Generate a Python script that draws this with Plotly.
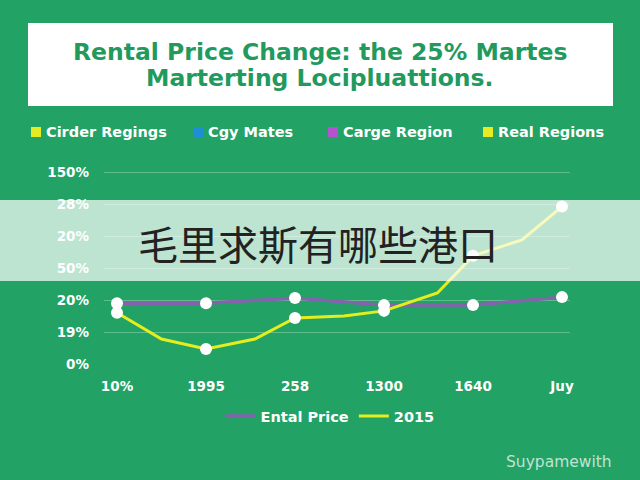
import plotly.graph_objects as go

# ---- data ----
x_tick_vals = [0, 1, 2, 3, 4, 5]
x_tick_text = ["10%", "1995", "258", "1300", "1640", "Juy"]
y_tick_vals = [0, 1, 2, 3, 4, 5, 6]
y_tick_text = ["0%", "19%", "20%", "50%", "20%", "28%", "150%"]

rental_x = [0, 1, 2, 3, 4, 5]
rental_y = [1.9, 1.9, 2.06, 1.84, 1.84, 2.09]

y2015_x = [0, 0.5, 1, 1.55, 2, 2.55, 3, 3.6, 4, 4.55, 5]
y2015_y = [1.6, 0.78, 0.47, 0.78, 1.44, 1.5, 1.66, 2.22, 3.38, 3.88, 4.92]

top_legend_names = ["Cirder Regings", "Cgy Mates", "Carge Region", "Real Regions"]
top_legend_colors = ["#e6ec22", "#1e8fd6", "#b452d2", "#e6ec22"]

title_lines = ["Rental Price Change: the 25% Martes", "Marterting Locipluattions."]
overlay_text = "毛里求斯有哪些港口"
watermark = "Suypamewith"

# ---- layout geometry (pixels) ----
W, H = 640, 480
PL, PR, PT, PB = 104, 570, 162, 364
BG = "#22a264"
PURPLE = "#8462ae"
YELLOW = "#e4ee1e"
FONT = "DejaVu Sans"


def fx(px):
    return (px - PL) / (PR - PL)


def fy(py):
    return (PB - py) / (PB - PT)


fig = go.Figure()

fig.add_trace(go.Scatter(x=rental_x, y=rental_y, mode="lines", name="Ental Price",
                         line=dict(color=PURPLE, width=3.5)))
fig.add_trace(go.Scatter(x=y2015_x, y=y2015_y, mode="lines", name="2015",
                         line=dict(color=YELLOW, width=3)))
# white dots at the labelled positions
fig.add_trace(go.Scatter(x=rental_x, y=rental_y, mode="markers", showlegend=False,
                         marker=dict(color="white", size=12)))
dot_x = [x for x in y2015_x if float(x).is_integer()]
dot_y = [y for x, y in zip(y2015_x, y2015_y) if float(x).is_integer()]
fig.add_trace(go.Scatter(x=dot_x, y=dot_y, mode="markers", showlegend=False,
                         marker=dict(color="white", size=12)))

shapes = []
annotations = []

# title box
shapes.append(dict(type="rect", xref="paper", yref="paper", layer="above",
                   x0=fx(28), x1=fx(613), y0=fy(106), y1=fy(23),
                   fillcolor="white", line=dict(width=0)))
for i, line in enumerate(title_lines):
    annotations.append(dict(xref="paper", yref="paper", x=fx(320), y=fy(52 + 26 * i),
                            text="<b>" + line + "</b>", showarrow=False,
                            font=dict(family=FONT, size=23.5, color="#229a5e"),
                            xanchor="center", yanchor="middle", align="center"))

# top legend row
leg_x = [31, 193, 328, 483]
for name, col, lx in zip(top_legend_names, top_legend_colors, leg_x):
    shapes.append(dict(type="rect", xref="paper", yref="paper",
                       x0=fx(lx), x1=fx(lx + 10), y0=fy(137), y1=fy(127),
                       fillcolor=col, line=dict(width=0)))
    annotations.append(dict(xref="paper", yref="paper", x=fx(lx + 13), y=fy(132),
                            text=name, showarrow=False, xanchor="left", yanchor="middle",
                            font=dict(family=FONT, size=14.5, color="white", weight="bold")))

# translucent overlay band with Chinese text
shapes.append(dict(type="rect", xref="paper", yref="paper", layer="above",
                   x0=fx(0), x1=fx(W), y0=fy(281), y1=fy(200),
                   fillcolor="rgba(255,255,255,0.70)", line=dict(width=0)))
annotations.append(dict(xref="paper", yref="paper", x=fx(318), y=fy(243),
                        text=overlay_text, showarrow=False, xanchor="center", yanchor="middle",
                        font=dict(family="Noto Sans CJK SC", size=40, color="#222222")))

# watermark
annotations.append(dict(xref="paper", yref="paper", x=fx(614), y=fy(462),
                        text=watermark, showarrow=False, xanchor="right", yanchor="middle",
                        font=dict(family=FONT, size=15.5, color="rgba(255,255,255,0.72)")))

fig.update_layout(
    width=W, height=H,
    margin=dict(l=PL, r=W - PR, t=PT, b=H - PB, pad=0),
    paper_bgcolor=BG, plot_bgcolor=BG,
    shapes=shapes, annotations=annotations,
    showlegend=True,
    legend=dict(orientation="h", x=fx(330), y=fy(416), xanchor="center", yanchor="middle",
                bgcolor="rgba(0,0,0,0)",
                font=dict(family=FONT, size=14.5, color="white", weight="bold"),
                itemwidth=30),
)

fig.update_xaxes(range=[(PL - 117) / 89, 5 + (PR - 562) / 89],
                 tickvals=x_tick_vals, ticktext=x_tick_text,
                 showgrid=False, zeroline=False, showline=False, ticks="",
                 ticklabelstandoff=12,
                 tickfont=dict(family=FONT, size=13.5, color="white", weight="bold"))
fig.update_yaxes(range=[0, (PB - PT) / 32],
                 tickvals=y_tick_vals, ticktext=y_tick_text,
                 showgrid=True, gridcolor="rgba(255,255,255,0.28)", gridwidth=1,
                 zeroline=False, showline=False, ticks="",
                 ticklabelstandoff=14,
                 tickfont=dict(family=FONT, size=13.5, color="white", weight="bold"))

fig.write_html("out.html", config={"displayModeBar": False},
               post_script="document.body.style.margin='0';document.body.style.overflow='hidden';")
